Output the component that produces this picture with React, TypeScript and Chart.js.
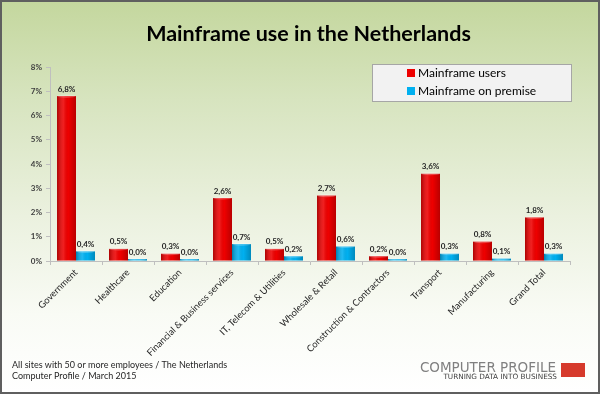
import { useEffect, useRef } from 'react';
import { Chart, registerables } from 'chart.js';

Chart.register(...registerables);

const chartTitle = 'Mainframe use in the Netherlands';
const categories = [
  'Government',
  'Healthcare',
  'Education',
  'Financial & Business services',
  'IT, Telecom & Utilities',
  'Wholesale & Retail',
  'Construction & Contractors',
  'Transport',
  'Manufacturing',
  'Grand Total',
];
const seriesNames = ['Mainframe users', 'Mainframe on premise'];
const mainframeUsers = [6.8, 0.5, 0.3, 2.6, 0.5, 2.7, 0.2, 3.6, 0.8, 1.8];
const mainframeOnPremise = [0.4, 0.0, 0.0, 0.7, 0.2, 0.6, 0.0, 0.3, 0.1, 0.3];
const yMin = 0;
const yMax = 8;
const yStep = 1;
const footerLines = [
  'All sites with 50 or more employees / The Netherlands',
  'Computer Profile / March 2015',
];
const logoTitle = 'COMPUTER PROFILE';
const logoTagline = 'TURNING DATA INTO BUSINESS';

const RED = '#ee0000';
const BLUE = '#00b0f0';

const fmt = (v: number) => v.toFixed(1).replace('.', ',') + '%';

const titlePlugin = {
  id: 'centeredTitle',
  afterDraw(chart: any) {
    const ctx = chart.ctx;
    ctx.save();
    ctx.font = 'bold 21.5px Lato';
    ctx.fillStyle = '#000000';
    ctx.textAlign = 'center';
    ctx.textBaseline = 'middle';
    ctx.fillText(chartTitle, 306.5, 32);
    ctx.restore();
  },
};

const shadePlugin = {
  id: 'shade',
  afterDatasetsDraw(chart: any) {
    const ctx = chart.ctx;
    chart.data.datasets.forEach((ds: any, di: number) => {
      const meta = chart.getDatasetMeta(di);
      meta.data.forEach((bar: any) => {
        const { x, y, base, width } = bar.getProps(['x', 'y', 'base', 'width'], true);
        const l = x - width / 2;
        const g = ctx.createLinearGradient(l, 0, l + width, 0);
        g.addColorStop(0, 'rgba(0,0,0,0.28)');
        g.addColorStop(0.35, 'rgba(255,255,255,0.12)');
        g.addColorStop(0.6, 'rgba(0,0,0,0)');
        g.addColorStop(1, 'rgba(0,0,0,0.22)');
        ctx.save();
        ctx.fillStyle = g;
        ctx.fillRect(l, y, width, base - y);
        ctx.beginPath();
        ctx.ellipse(x, y, width / 2, 1.6, 0, 0, Math.PI * 2);
        ctx.fillStyle = 'rgba(255,255,255,0.25)';
        ctx.fill();
        ctx.restore();
      });
    });
  },
};

const labelPlugin = {
  id: 'valueLabels',
  afterDatasetsDraw(chart: any) {
    const ctx = chart.ctx;
    ctx.save();
    ctx.font = 'bold 8px Lato';
    ctx.fillStyle = '#262626';
    ctx.textAlign = 'center';
    ctx.textBaseline = 'middle';
    chart.data.datasets.forEach((ds: any, di: number) => {
      const meta = chart.getDatasetMeta(di);
      meta.data.forEach((bar: any, i: number) => {
        ctx.fillText(fmt(ds.data[i]), bar.x, bar.y - 7);
      });
    });
    ctx.restore();
  },
};

const legendPlugin = {
  id: 'boxLegend',
  afterDraw(chart: any) {
    const ctx = chart.ctx;
    ctx.save();
    ctx.fillStyle = '#f2f2f2';
    ctx.fillRect(370, 62, 199, 37);
    ctx.strokeStyle = '#a6a6a6';
    ctx.lineWidth = 1;
    ctx.strokeRect(370.5, 62.5, 199, 37);
    ctx.font = '12px Lato';
    ctx.textBaseline = 'middle';
    ctx.textAlign = 'left';
    chart.data.datasets.forEach((ds: any, i: number) => {
      const cy = 71 + i * 18;
      ctx.fillStyle = ds.backgroundColor;
      ctx.fillRect(405, cy - 4, 8, 8);
      ctx.fillStyle = '#000000';
      ctx.fillText(ds.label, 416, cy);
    });
    ctx.restore();
  },
};

const footerPlugin = {
  id: 'footer',
  afterDraw(chart: any) {
    const ctx = chart.ctx;
    ctx.save();
    ctx.font = '9px Lato';
    ctx.fillStyle = '#262626';
    ctx.textBaseline = 'middle';
    ctx.textAlign = 'left';
    footerLines.forEach((t, i) => ctx.fillText(t, 10, 363 + i * 11));
    ctx.textAlign = 'right';
    ctx.font = '13.5px "DejaVu Sans"';
    ctx.fillStyle = '#808080';
    ctx.fillText(logoTitle, 554, 366);
    ctx.font = '7.3px "DejaVu Sans"';
    ctx.fillStyle = '#404040';
    ctx.fillText(logoTagline, 555, 375.5);
    ctx.fillStyle = '#d63a2c';
    ctx.fillRect(559, 361, 24, 14);
    ctx.restore();
  },
};

export default function App() {
  const ref = useRef<HTMLCanvasElement>(null);
  useEffect(() => {
    document.body.style.margin = '0';
    const chart = new Chart(ref.current!, {
      type: 'bar',
      data: {
        labels: categories,
        datasets: [
          {
            label: seriesNames[0],
            data: mainframeUsers,
            backgroundColor: RED,
            categoryPercentage: 0.73,
            barPercentage: 1,
            minBarLength: 2,
          },
          {
            label: seriesNames[1],
            data: mainframeOnPremise,
            backgroundColor: BLUE,
            categoryPercentage: 0.73,
            barPercentage: 1,
            minBarLength: 2,
          },
        ],
      },
      options: {
        responsive: false,
        animation: false,
        devicePixelRatio: 1,
        layout: { padding: { left: 0, right: 28, top: 65, bottom: 0 } },
        plugins: {
          legend: { display: false },
          tooltip: { enabled: false },
          title: { display: false },
        },
        scales: {
          x: {
            afterFit: (s: any) => {
              s.height = 131;
            },
            grid: {
              drawOnChartArea: false,
              drawTicks: true,
              tickLength: 4,
              color: '#bfbfbf',
              offset: true,
            },
            border: { color: '#bfbfbf' },
            ticks: {
              minRotation: 45,
              maxRotation: 45,
              autoSkip: false,
              padding: 2,
              color: '#262626',
              font: { family: 'Lato', size: 9.3 },
            },
          },
          y: {
            min: yMin,
            max: yMax,
            afterFit: (s: any) => {
              s.width = 48;
            },
            grid: {
              drawOnChartArea: false,
              drawTicks: true,
              tickLength: 4,
              color: '#bfbfbf',
            },
            border: { color: '#bfbfbf' },
            ticks: {
              stepSize: yStep,
              padding: 4,
              color: '#404040',
              font: { family: 'Lato', size: 8, weight: 'bold' },
              callback: (v: any) => v + '%',
            },
          },
        },
      },
      plugins: [titlePlugin, shadePlugin, labelPlugin, legendPlugin, footerPlugin],
    });
    return () => chart.destroy();
  }, []);
  return (
    <div
      style={{
        width: 600,
        height: 394,
        boxSizing: 'border-box',
        border: '2px solid #5f5f5f',
        background: 'linear-gradient(180deg, #c4d79e 0%, #d7e4bf 25%, #ebf1df 55%, #f9fbf5 80%, #ffffff 100%)',
      }}
    >
      <canvas ref={ref} width={596} height={390} style={{ display: 'block' }} />
    </div>
  );
}
